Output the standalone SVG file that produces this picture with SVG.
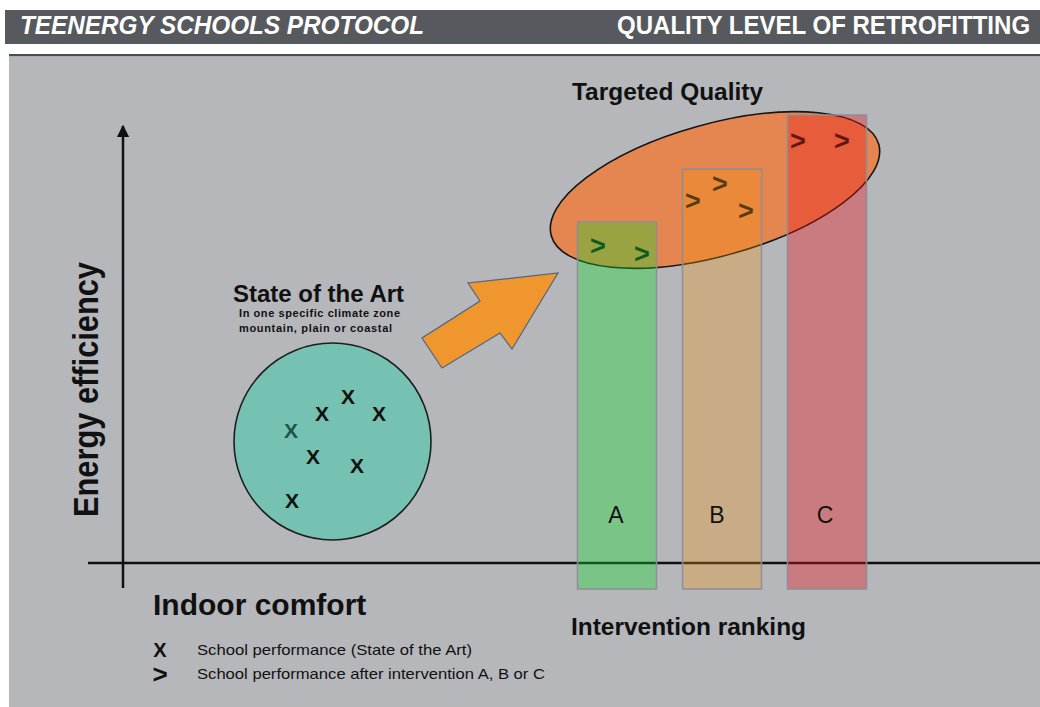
<svg xmlns="http://www.w3.org/2000/svg" width="1040" height="707" viewBox="0 0 1040 707">
  <style>
    text { font-family: "Liberation Sans", Arial, sans-serif; fill: #111; }
    .hdr { fill: #ffffff; font-size: 26px; font-weight: bold; }
    .mark { font-size: 21px; font-weight: bold; text-anchor: middle; }
    .gt { font-size: 27px; font-weight: bold; text-anchor: middle; fill: #151515; }
    .bar { stroke: #8d8f92; stroke-width: 1.5; }
    .barlbl { font-size: 23px; text-anchor: middle; }
    .legend { font-size: 15px; }
  </style>
  <defs>
    <marker id="axisHead" viewBox="0 0 10 10" refX="9" refY="5" markerWidth="5" markerHeight="5" orient="auto" markerUnits="strokeWidth">
      <path d="M0,0 L10,5 L0,10 z" fill="#111"/>
    </marker>
  </defs>

  <!-- page background -->
  <rect x="0" y="0" width="1040" height="707" fill="#ffffff"/>

  <!-- title bar (condensed lettering via horizontal scale) -->
  <g id="header">
    <rect x="5" y="10" width="1035" height="34" fill="#56595d"/>
    <text class="hdr" x="0" y="0" font-style="italic" transform="translate(20 34) scale(0.935 1)">TEENERGY SCHOOLS PROTOCOL</text>
    <text class="hdr" x="0" y="0" transform="translate(617 34) scale(0.925 1)">QUALITY LEVEL OF RETROFITTING</text>
  </g>

  <!-- chart panel -->
  <rect x="9" y="54" width="1031" height="2.5" fill="#4a4c4f"/>
  <rect x="9" y="56.5" width="1031" height="651" fill="#b5b7bb"/>

  <!-- axes -->
  <g id="axes">
    <line x1="123" y1="588" x2="123" y2="126" stroke="#111" stroke-width="2.5" marker-end="url(#axisHead)"/>
    <line x1="88" y1="563" x2="1040" y2="563" stroke="#111" stroke-width="2.5"/>
    <text x="98" y="389.5" font-size="35" font-weight="bold" text-anchor="middle" transform="rotate(-90 98 389.5)" textLength="255" lengthAdjust="spacingAndGlyphs">Energy efficiency</text>
    <text x="153" y="615" font-size="30" font-weight="bold">Indoor comfort</text>
    <text x="571" y="635" font-size="24" font-weight="bold" textLength="235" lengthAdjust="spacingAndGlyphs">Intervention ranking</text>
  </g>

  <!-- state of the art cluster -->
  <g id="state-of-the-art">
    <text x="318.5" y="302" font-size="24" font-weight="bold" text-anchor="middle">State of the Art</text>
    <text x="239" y="317" font-size="11" font-weight="bold" textLength="161" lengthAdjust="spacing">In one specific climate zone</text>
    <text x="239" y="332" font-size="11" font-weight="bold" textLength="153" lengthAdjust="spacing">mountain, plain or coastal</text>
    <circle cx="332.5" cy="441.5" r="98.5" fill="#75c2b2" stroke="#1e1e1e" stroke-width="1.6"/>
    <text class="mark" x="348" y="403.5">X</text>
    <text class="mark" x="322" y="420.5">X</text>
    <text class="mark" x="379" y="420.5">X</text>
    <text class="mark" x="291" y="437.5" style="fill:#1f5646">X</text>
    <text class="mark" x="313" y="463.5">X</text>
    <text class="mark" x="357" y="472.5">X</text>
    <text class="mark" x="292" y="507.5">X</text>
  </g>

  <!-- targeted quality zone -->
  <g id="targeted-quality">
    <text x="572" y="100" font-size="24" font-weight="bold" textLength="191" lengthAdjust="spacingAndGlyphs">Targeted Quality</text>
    <ellipse cx="715" cy="190" rx="170" ry="66" transform="rotate(-15.6 715 190)" fill="#e5854f" stroke="#151515" stroke-width="1.6"/>
  </g>

  <!-- performance after intervention -->
  <g id="after-intervention">
    <text class="gt" x="598" y="255">&gt;</text>
    <text class="gt" x="642" y="263">&gt;</text>
    <text class="gt" x="693" y="210">&gt;</text>
    <text class="gt" x="720" y="193">&gt;</text>
    <text class="gt" x="746" y="220">&gt;</text>
    <text class="gt" x="798" y="150">&gt;</text>
    <text class="gt" x="842" y="150">&gt;</text>
  </g>

  <!-- intervention bars -->
  <g id="bar-a">
    <rect class="bar" x="577.5" y="222" width="79" height="367" fill="rgba(12,220,44,0.35)"/>
    <text class="barlbl" x="616" y="523">A</text>
  </g>
  <g id="bar-b">
    <rect class="bar" x="682.5" y="169" width="79" height="420" fill="rgba(248,150,14,0.30)"/>
    <text class="barlbl" x="717" y="523">B</text>
  </g>
  <g id="bar-c">
    <rect class="bar" x="787.5" y="115" width="79" height="474" fill="rgba(235,21,28,0.37)"/>
    <text class="barlbl" x="825" y="523">C</text>
  </g>

  <!-- connectors -->
  <g id="connectors">
    <polygon points="422,338 442,368 500,333 512,349 558,273 468,283 480,301" fill="#f0962e" stroke="#4d6680" stroke-width="1.2" stroke-linejoin="miter"/>
  </g>

  <!-- legend -->
  <g id="legend">
    <text x="160" y="657" font-size="20" font-weight="bold" text-anchor="middle">X</text>
    <text class="legend" x="197" y="655" textLength="275" lengthAdjust="spacingAndGlyphs">School performance (State of the Art)</text>
    <text x="160" y="683" font-size="26" font-weight="bold" text-anchor="middle">&gt;</text>
    <text class="legend" x="197" y="679" textLength="348" lengthAdjust="spacingAndGlyphs">School performance after intervention A, B or C</text>
  </g>
</svg>
